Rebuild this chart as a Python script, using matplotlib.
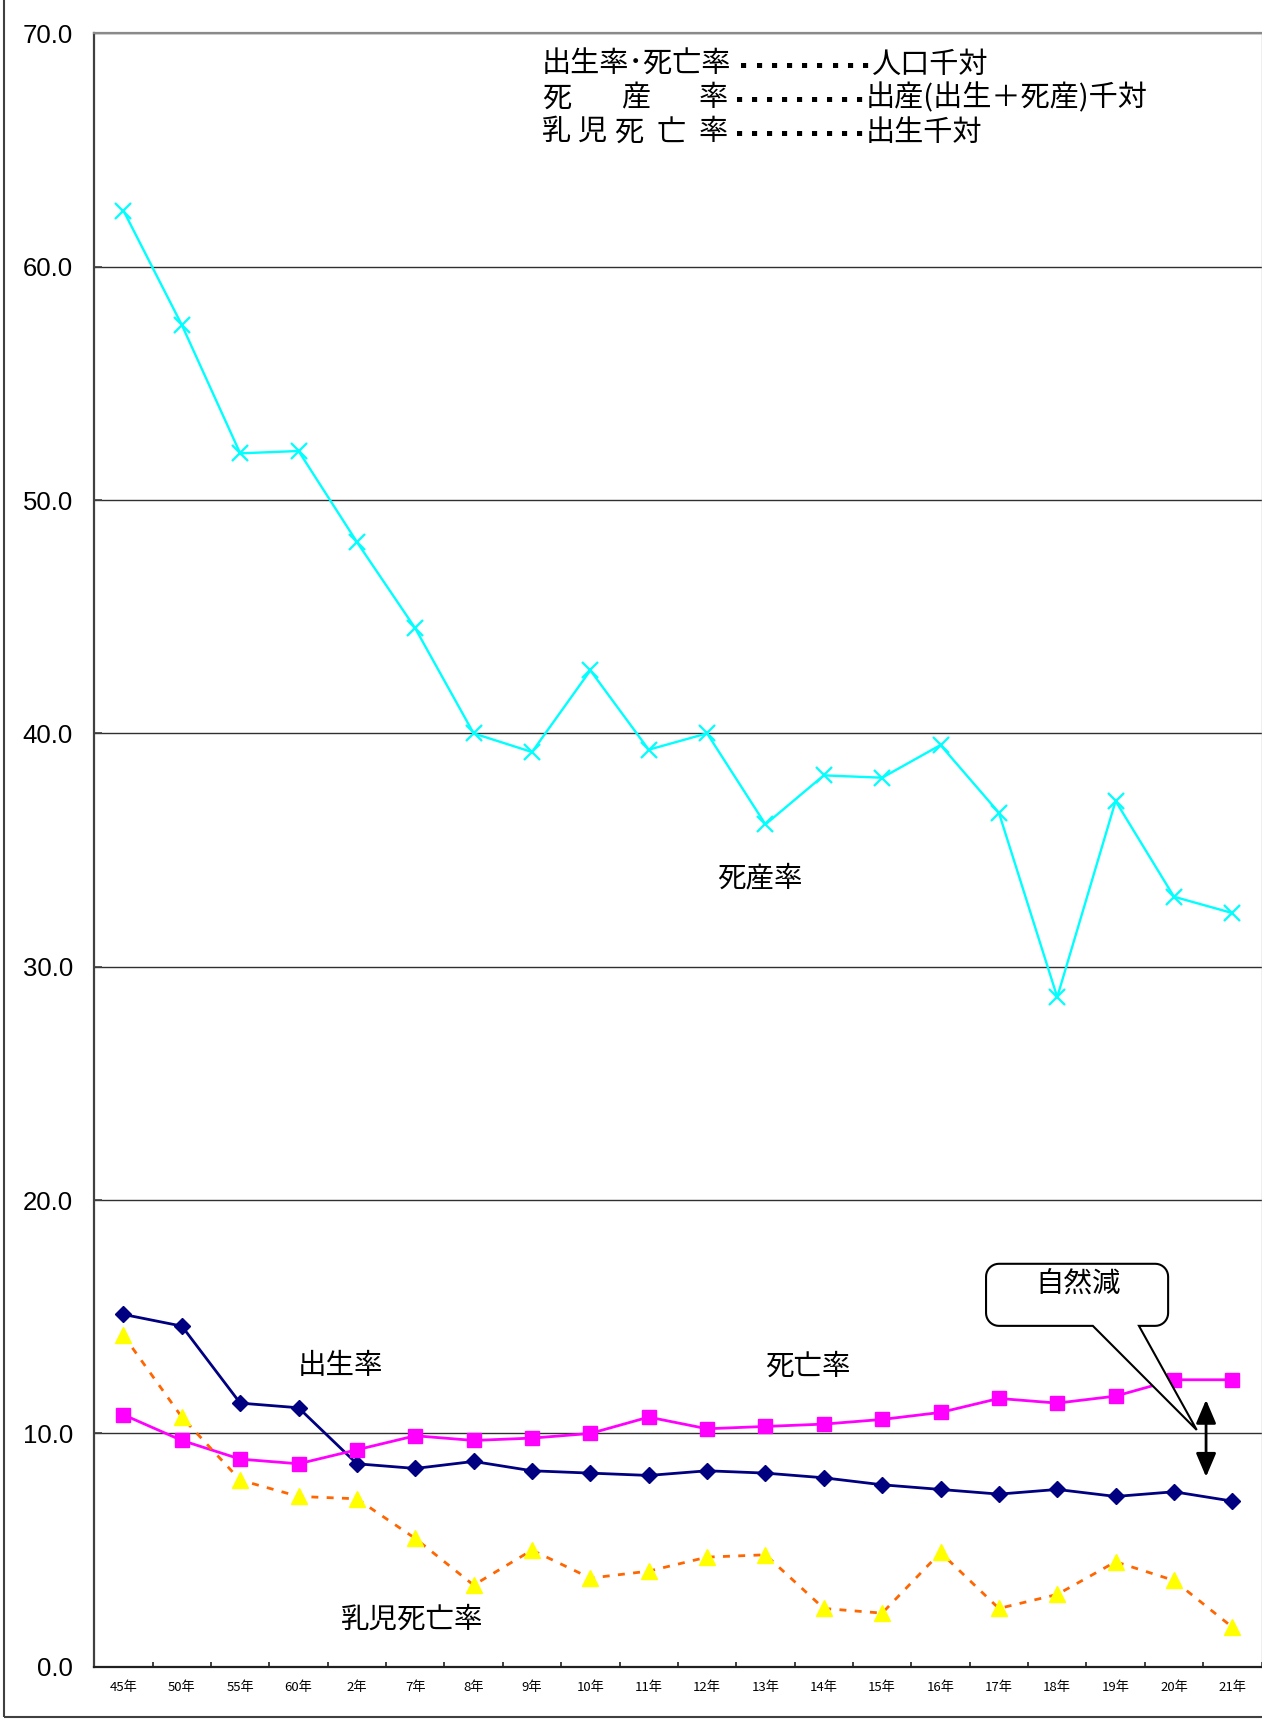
import matplotlib
matplotlib.use("Agg")
import matplotlib.pyplot as plt
import numpy as np
from matplotlib.patches import Polygon, Rectangle

plt.rcParams['font.family'] = ['Noto Sans CJK JP', 'DejaVu Sans']

# ---------------- data ----------------
categories = ['45年', '50年', '55年', '60年', '2年', '7年', '8年', '9年', '10年', '11年',
              '12年', '13年', '14年', '15年', '16年', '17年', '18年', '19年', '20年', '21年']
stillbirth_rate = [62.4, 57.5, 52.0, 52.1, 48.2, 44.5, 40.0, 39.2, 42.7, 39.3,
                   40.0, 36.1, 38.2, 38.1, 39.5, 36.6, 28.7, 37.1, 33.0, 32.3]
birth_rate = [15.1, 14.6, 11.3, 11.1, 8.7, 8.5, 8.8, 8.4, 8.3, 8.2,
              8.4, 8.3, 8.1, 7.8, 7.6, 7.4, 7.6, 7.3, 7.5, 7.1]
death_rate = [10.8, 9.7, 8.9, 8.7, 9.3, 9.9, 9.7, 9.8, 10.0, 10.7,
              10.2, 10.3, 10.4, 10.6, 10.9, 11.5, 11.3, 11.6, 12.3, 12.3]
infant_mortality = [14.2, 10.7, 8.0, 7.3, 7.2, 5.5, 3.5, 5.0, 3.8, 4.1,
                    4.7, 4.8, 2.5, 2.3, 4.9, 2.5, 3.1, 4.5, 3.7, 1.7]
yticks = [0, 10, 20, 30, 40, 50, 60, 70]

W, H = 1262, 1720
fig = plt.figure(figsize=(W / 100, H / 100), dpi=100)
ax = fig.add_axes([94.3 / W, (H - 1666.8) / H, (1261.5 - 94.3) / W, (1666.8 - 33.3) / H])

x = np.arange(len(categories))

# gridlines
ax.set_ylim(0, 70)
ax.set_xlim(-0.5, len(categories) - 0.5)
ax.set_yticks(yticks)
ax.set_yticklabels([f"{v:.1f}" for v in yticks], fontfamily='Liberation Sans', fontsize=18.5)
ax.yaxis.grid(True, color='#303030', linewidth=1.0)
ax.set_axisbelow(True)
ax.tick_params(axis='y', direction='in', length=6, width=1.2, color='#404040', pad=15.5)

ax.set_xticks(x)
ax.set_xticklabels(categories, fontsize=9.5)
ax.set_xticks(np.arange(len(categories) + 1) - 0.5, minor=True)
ax.tick_params(axis='x', which='major', length=0, pad=10)
ax.tick_params(axis='x', which='minor', direction='in', length=3.5, width=1.2, color='#202020')

for side, col, lw in [('left', '#404040', 1.6), ('bottom', '#202020', 1.6),
                      ('top', '#8a8a8a', 1.6), ('right', '#b0b0b0', 1.0)]:
    ax.spines[side].set_color(col)
    ax.spines[side].set_linewidth(lw)

# series
ax.plot(x, birth_rate, color='#000080', lw=2.0, marker='D', ms=8, zorder=3)
ax.plot(x, death_rate, color='#FF00FF', lw=2.0, marker='s', ms=10.5, zorder=3)
ax.plot(x, stillbirth_rate, color='#00FFFF', lw=1.7, marker='x', ms=11, mew=1.6, zorder=3)
ax.plot(x, infant_mortality, color='#FF6600', lw=2.0, ls=(0, (2.5, 3)),
        marker='^', ms=11, mfc='#FFFF00', mec='#FFFF00', zorder=3)

# in-plot labels
lbl_kw = dict(fontsize=20.5, ha='center', va='center', color='black', zorder=5)
ax.text(10.91, 33.8, '死産率', **lbl_kw)
ax.text(3.72, 12.87, '出生率', **lbl_kw)
ax.text(11.73, 12.87, '死亡率', **lbl_kw)
ax.text(4.94, 2.03, '乳児死亡率', **lbl_kw)

# callout "自然減"
x0, x1, y0, y1 = 14.78, 17.90, 14.61, 17.27
rx, ry = 0.22, 0.55
wa, wb, tip = 16.61, 17.40, (18.39, 10.15)

def arc(cx, cy, a0, a1, n=10):
    t = np.linspace(np.radians(a0), np.radians(a1), n)
    return list(zip(cx + rx * np.cos(t), cy + ry * np.sin(t)))

pts = []
pts += arc(x0 + rx, y1 - ry, 180, 90)
pts += arc(x1 - rx, y1 - ry, 90, 0)
pts += arc(x1 - rx, y0 + ry, 0, -90)
pts += [(wb, y0), tip, (wa, y0)]
pts += arc(x0 + rx, y0 + ry, -90, -180)
ax.add_patch(Polygon(pts, closed=True, facecolor='white', edgecolor='black', lw=1.5, zorder=6))
ax.text(16.36, 16.38, '自然減', fontsize=20.5, ha='center', va='center', zorder=7)

# double arrow
ax.annotate('', xy=(18.55, 11.44), xytext=(18.55, 8.14),
            arrowprops=dict(arrowstyle='<|-|>,head_length=0.4,head_width=0.17',
                            mutation_scale=36, color='black', lw=2, shrinkA=0, shrinkB=0),
            zorder=7)

# legend-like explanatory text at top (figure pixel coordinates)
def fx(px):
    return px / W

def fy(py):
    return 1 - py / H

L1, L2, L3 = 64.5, 98.5, 132.5
tk = dict(fontsize=21, ha='left', va='center', color='black')
fig.text(fx(542), fy(L1), '出生率･死亡率', **tk)
for cx, ch in [(542, '死'), (621, '産'), (699, '率')]:
    fig.text(fx(cx), fy(L2), ch, **tk)
for cx, ch in [(542, '乳'), (578, '児'), (614, '死'), (657, '亡'), (699, '率')]:
    fig.text(fx(cx), fy(L3), ch, **tk)

dot_kw = dict(fontsize=7.5, ha='center', va='center', color='black', fontfamily='DejaVu Sans')
for i in range(9):
    fig.text(fx(743 + 15.2 * i), fy(L1), '▪', **dot_kw)
    fig.text(fx(739 + 15.0 * i), fy(L2), '▪', **dot_kw)
    fig.text(fx(739 + 15.0 * i), fy(L3), '▪', **dot_kw)

fig.text(fx(871), fy(L1), '人口千対', **tk)
fig.text(fx(866), fy(L2), '出産(出生＋死産)千対', **tk)
fig.text(fx(866), fy(L3), '出生千対', **tk)

# outer chart border (partly outside the image)
fig.patches.append(Rectangle((3.5, 3.0), 2000, 2000, transform=None, fill=False,
                             edgecolor='#404040', linewidth=1.5, figure=fig))

fig.savefig('out.png', dpi=100)
